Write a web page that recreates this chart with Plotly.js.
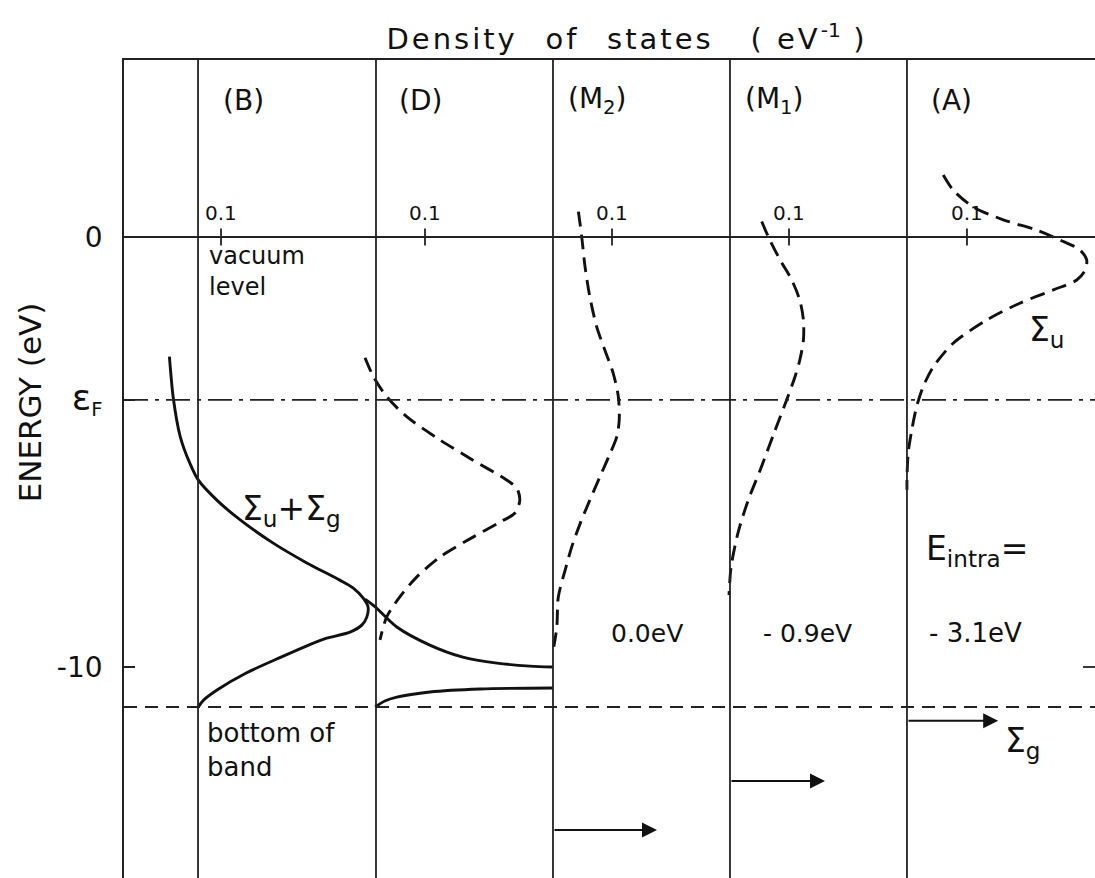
<!DOCTYPE html>
<html>
<head>
<meta charset="utf-8">
<script src="https://cdn.plot.ly/plotly-3.0.1.min.js"></script>
<style>html,body{margin:0;padding:0;background:#fff;}#chart{width:1095px;height:878px;}</style>
</head>
<body>
<div id="chart"></div>
<script>
// ---- reference energy levels (eV) ----
const E_VACUUM = 0;
const E_FERMI = -3.79;
const E_BOTTOM = -10.93;
const TICK_DOS = 0.1;

// ---- panel labels ----
const panelLabels = ['(B)', '(D)', '(M<sub>2</sub>)', '(M<sub>1</sub>)', '(A)'];
const panelShift = ['0.0eV', '- 0.9eV', '- 3.1eV'];

// ---- (B) total DOS  Σu+Σg (solid) ----
const bDos = [0.014,0.0205,0.032,0.048,0.062,0.093,0.132,0.187,0.243,0.298,0.32,0.337,0.345,0.343,0.335,0.315,0.276,0.258,0.2,0.142,0.094,0.071,0.062];
const bE   = [-2.78,-3.75,-4.64,-5.26,-5.65,-6.12,-6.58,-7.12,-7.58,-7.98,-8.16,-8.40,-8.60,-8.84,-9.02,-9.19,-9.33,-9.42,-9.77,-10.14,-10.53,-10.77,-10.93];
const bUpperDos = [0.34,0.357,0.393,0.448,0.503,0.56,0.615,0.653];
const bUpperE   = [-8.42,-8.60,-9.07,-9.49,-9.77,-9.91,-9.98,-10.0];
const bLowerDos = [0.357,0.373,0.393,0.448,0.532,0.653];
const bLowerE   = [-10.93,-10.79,-10.70,-10.58,-10.51,-10.49];

// ---- (D) dashed ----
const dDos = [0.0,0.014,0.036,0.0695,0.125,0.18,0.236,0.253,0.258,0.25,0.225,0.18,0.125,0.086,0.058,0.036,0.025];
const dE   = [-2.81,-3.25,-3.71,-4.18,-4.72,-5.19,-5.65,-5.84,-6.12,-6.42,-6.63,-6.98,-7.44,-7.91,-8.37,-8.84,-9.37];

// ---- (M2) dashed ----
const m2Dos = [0.044,0.0495,0.055,0.063,0.0745,0.088,0.102,0.1105,0.112,0.108,0.097,0.08,0.063,0.047,0.033,0.022,0.0105,0.008,0.003];
const m2E   = [0.59,0.01,-0.69,-1.39,-2.09,-2.63,-3.17,-3.71,-4.26,-4.64,-5.03,-5.57,-6.12,-6.66,-7.20,-7.74,-8.37,-9.07,-9.53];

// ---- (M1) dashed ----
const m1Dos = [0.0545,0.068,0.085,0.1045,0.118,0.124,0.124,0.118,0.11,0.096,0.075,0.052,0.032,0.015,0.0035,0.0];
const m1E   = [0.36,-0.07,-0.53,-1.0,-1.47,-1.93,-2.40,-2.86,-3.25,-3.79,-4.56,-5.42,-6.12,-6.88,-7.67,-8.33];

// ---- (A) dashed Σu ----
const aDos = [0.0605,0.077,0.1105,0.1605,0.216,0.255,0.288,0.2995,0.297,0.283,0.244,0.188,0.133,0.077,0.044,0.027,0.016,0.008,0.002,0.0,0.0];
const aE   = [1.44,1.09,0.70,0.40,0.16,-0.07,-0.30,-0.53,-0.77,-1.0,-1.23,-1.54,-1.93,-2.47,-3.02,-3.48,-3.95,-4.49,-5.03,-5.65,-5.88];

// ---- Σg delta-function arrows (M2, M1, A) ----
const arrowPanel = [2, 3, 4];
const arrowE = [-13.79, -12.65, -11.25];
const arrowDos = [0.175, 0.16, 0.152];

// ---- layout geometry (horizontal axis: DOS units, each panel offset) ----
const panelZero = [0, 0.34, 0.6517, 0.9467, 1.2433];
const panelLine = [0.0617, 0.3583, 0.6533, 0.9483, 1.2433];
const X_RANGE = [-0.0617, 1.5567];
const Y_RANGE = [-14.907, 4.116];

const FONT = 'DejaVu Sans, Liberation Sans, sans-serif';
const INK = '#111';
const FRAME = '#222';
const DASH = '15px,8px';

function curve(zero, dos, e, dash) {
  return {
    x: dos.map(d => zero + d), y: e, mode: 'lines', type: 'scatter',
    line: {color: INK, width: 2.9, dash: dash, shape: 'spline', smoothing: 0.8},
    hoverinfo: 'skip', showlegend: false
  };
}

const traces = [
  curve(panelZero[0], bDos, bE, 'solid'),
  curve(panelZero[0], bUpperDos, bUpperE, 'solid'),
  curve(panelZero[0], bLowerDos, bLowerE, 'solid'),
  curve(panelZero[1], dDos, dE, DASH),
  curve(panelZero[2], m2Dos, m2E, DASH),
  curve(panelZero[3], m1Dos, m1E, DASH),
  curve(panelZero[4], aDos, aE, DASH)
];

const shapes = [];
// horizontal reference levels
shapes.push({type:'line', xref:'paper', x0:0, x1:1, yref:'y', y0:E_VACUUM, y1:E_VACUUM, line:{color:FRAME, width:1.8}});
shapes.push({type:'line', xref:'paper', x0:0, x1:1, yref:'y', y0:E_FERMI, y1:E_FERMI, line:{color:FRAME, width:1.8, dash:'24px,7px,4px,7px'}});
shapes.push({type:'line', xref:'paper', x0:0, x1:1, yref:'y', y0:E_BOTTOM, y1:E_BOTTOM, line:{color:FRAME, width:1.8, dash:'13px,8px'}});
// panel separators
panelLine.forEach(x => shapes.push({type:'line', xref:'x', x0:x, x1:x, yref:'paper', y0:0, y1:1, line:{color:FRAME, width:1.8}}));
// 0.1 ticks on the vacuum line
panelZero.forEach(z => shapes.push({type:'line', xref:'x', x0:z+TICK_DOS, x1:z+TICK_DOS, yref:'y', y0:E_VACUUM+0.2, y1:E_VACUUM-0.2, line:{color:FRAME, width:1.8}}));
// right-edge tick at -10
shapes.push({type:'line', xref:'x', x0:X_RANGE[1]-0.02, x1:X_RANGE[1], yref:'y', y0:-10, y1:-10, line:{color:FRAME, width:1.8}});

const annotations = [];
panelLabels.forEach((t, i) => annotations.push({
  text: t, x: panelLine[i] + 0.075, y: 3.17, xref:'x', yref:'y', showarrow:false,
  font:{family:FONT, size:28, color:INK}, xanchor:'center', yanchor:'middle'
}));
panelZero.forEach(z => annotations.push({
  text: '0.1', x: z + TICK_DOS, y: E_VACUUM, xref:'x', yref:'y', showarrow:false,
  font:{family:FONT, size:20, color:INK}, xanchor:'center', yanchor:'bottom', yshift:10
}));
arrowPanel.forEach((p, i) => annotations.push({
  text:'', x: panelZero[p] + arrowDos[i], y: arrowE[i], ax: panelLine[p], ay: arrowE[i],
  xref:'x', yref:'y', axref:'x', ayref:'y', showarrow:true, arrowhead:2, arrowsize:1.5, arrowwidth:2, arrowcolor:INK
}));
const txt = (text, x, y, size, xanchor) => annotations.push({
  text, x, y, xref:'x', yref:'y', showarrow:false, font:{family:FONT, size, color:INK},
  xanchor: xanchor || 'center', yanchor:'middle', align:'left'
});
txt('vacuum<br>level', 0.076, -0.8, 24, 'left');
txt('bottom of<br>band', 0.074, -11.93, 26, 'left');
txt('Σ<sub>u</sub>+Σ<sub>g</sub>', 0.218, -6.35, 33);
txt('Σ<sub>u</sub>', 1.477, -2.2, 33);
txt('Σ<sub>g</sub>', 1.437, -11.75, 33);
txt(panelShift[0], 0.81, -9.21, 25);
txt(panelShift[1], 1.077, -9.21, 25);
txt('E<sub>intra</sub>=', 1.36, -7.3, 33);
txt(panelShift[2], 1.357, -9.21, 26);
// vertical energy axis title
annotations.push({text:'ENERGY (eV)', xref:'paper', yref:'y', x:-0.097, y:-3.85, textangle:-90,
  showarrow:false, font:{family:FONT, size:31, color:INK}, xanchor:'center', yanchor:'middle'});

const sp = s => '<span style="letter-spacing:3px">' + s + '</span>';
const layout = {
  width: 1095, height: 878,
  margin: {l:124, r:0, t:60, b:0, pad:0},
  paper_bgcolor:'#fff', plot_bgcolor:'#fff',
  showlegend:false,
  title: {text: sp('Density') + '   ' + sp('of') + '   ' + sp('states') + '    ' + sp('( eV') + '<sup>-1</sup>' + sp(' )'),
          font:{family:FONT, size:29, color:INK},
          x: 0.5726, xanchor:'center', y: 0.956, yanchor:'middle'},
  xaxis: {range: X_RANGE, side:'top', showline:true, linecolor:FRAME, linewidth:1.8,
          showticklabels:false, ticks:'', showgrid:false, zeroline:false, fixedrange:true},
  yaxis: {range: Y_RANGE, tickvals:[E_VACUUM, E_FERMI, -10],
          ticktext:['0', '<span style="font-size:36px">ε</span><sub>F</sub>', '-10'],
          ticks:'inside', ticklen:11, tickwidth:1.8, tickcolor:FRAME,
          showline:true, linecolor:FRAME, linewidth:1.8, showgrid:false, zeroline:false,
          tickfont:{family:FONT, size:28, color:INK}, ticklabelstandoff:14},
  shapes, annotations
};

Plotly.newPlot('chart', traces, layout, {staticPlot:true, displayModeBar:false});
</script>
</body>
</html>
